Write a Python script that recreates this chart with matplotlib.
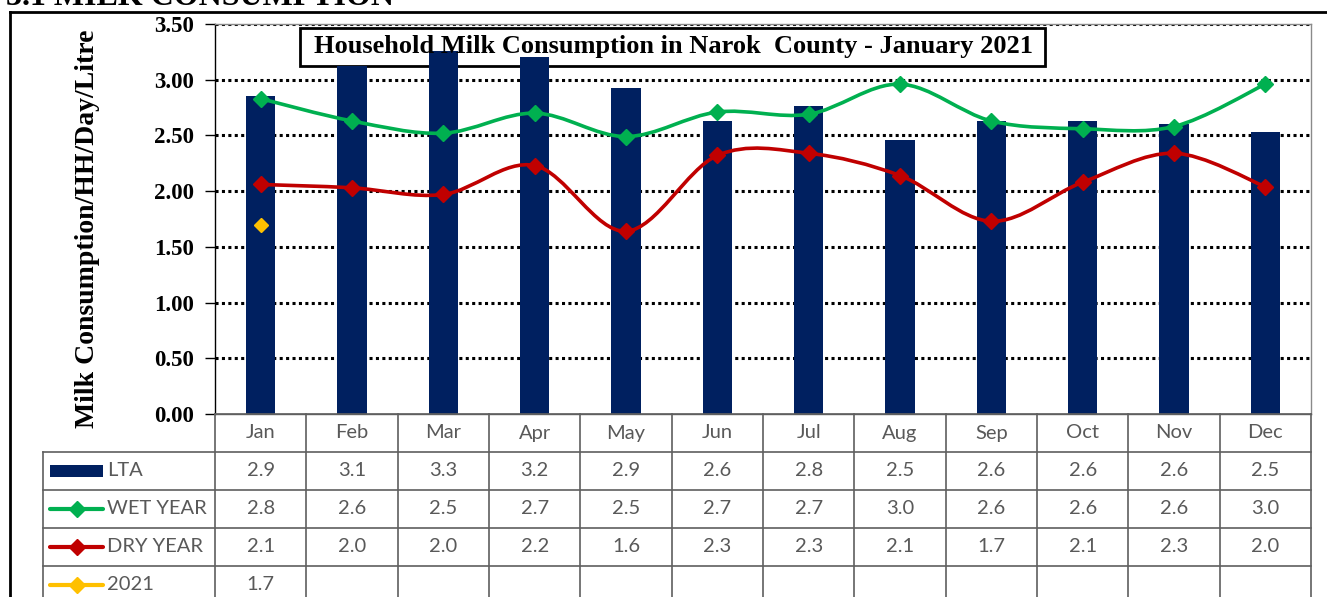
import matplotlib
matplotlib.use('Agg')
import matplotlib.pyplot as plt
from matplotlib.patches import Rectangle, PathPatch
from matplotlib.path import Path
from matplotlib.lines import Line2D

plt.rcParams.update({'font.family': 'Lato', 'figure.facecolor': 'white'})

# data
months = ['Jan', 'Feb', 'Mar', 'Apr', 'May', 'Jun', 'Jul', 'Aug', 'Sep', 'Oct', 'Nov', 'Dec']
lta = [2.85, 3.12, 3.26, 3.20, 2.93, 2.63, 2.76, 2.46, 2.63, 2.63, 2.60, 2.53]
wet_year = [2.83, 2.63, 2.52, 2.70, 2.49, 2.71, 2.69, 2.96, 2.63, 2.56, 2.58, 2.96]
dry_year = [2.06, 2.03, 1.97, 2.23, 1.64, 2.32, 2.34, 2.14, 1.73, 2.08, 2.34, 2.04]
y2021 = [1.70]
yticks = [0.0, 0.5, 1.0, 1.5, 2.0, 2.5, 3.0, 3.5]

NAVY, GREEN, RED, GOLD = '#002060', '#00B050', '#C00000', '#FFC000'
GRID = '#5f5f5f'
TXT = '#595959'
SERIF = 'Liberation Serif'

W, H = 1327, 597
fig = plt.figure(figsize=(W / 100, H / 100), dpi=100)


def fx(px):
    return px / W


def fy(py):
    return 1 - py / H


def smooth(xs, ys):
    # Excel-like smoothed line as cubic Bezier segments
    verts = [(xs[0], ys[0])]
    codes = [Path.MOVETO]
    n = len(xs)
    for i in range(n - 1):
        a = max(i - 1, 0)
        b = min(i + 2, n - 1)
        c1 = (xs[i] + (xs[i + 1] - xs[a]) / 6, ys[i] + (ys[i + 1] - ys[a]) / 6)
        c2 = (xs[i + 1] - (xs[b] - xs[i]) / 6, ys[i + 1] - (ys[b] - ys[i]) / 6)
        verts += [c1, c2, (xs[i + 1], ys[i + 1])]
        codes += [Path.CURVE4] * 3
    return Path(verts, codes)


# ---- main chart ----
L, R, T, B = 215, 1311, 24, 414
ax = fig.add_axes([fx(L), fy(B), fx(R - L), (B - T) / H])
x = list(range(len(months)))
ax.set_xlim(-0.5, 11.5)
ax.set_ylim(0, 3.5)

for v in yticks[1:]:
    ax.axhline(v, color='black', lw=2.2, ls=(0, (1, 1.1)), zorder=1)

# title box (transparent, bars run over it, text on top)
ax.add_patch(Rectangle((fx(300), fy(66)), fx(745), (66 - 28) / H,
                       transform=fig.transFigure, fc='none', ec='black', lw=2,
                       clip_on=False, zorder=1.5))
ax.text(fx(673), fy(47), 'Household Milk Consumption in Narok  County - January 2021',
        transform=fig.transFigure, ha='center', va='center', fontfamily=SERIF,
        fontweight='bold', fontsize=19, zorder=6)

ax.bar(x, lta, width=0.32, color=NAVY, zorder=2)

for vals, col in [(wet_year, GREEN), (dry_year, RED)]:
    ax.add_patch(PathPatch(smooth(x, vals), fc='none', ec=col, lw=2.6, zorder=3))
    ax.plot(x, vals, ls='none', marker='D', ms=8.5, color=col, zorder=4)
ax.plot(x[:len(y2021)], y2021, ls='none', marker='D', ms=7, color=GOLD, zorder=4)

ax.set_yticks(yticks)
ax.set_yticklabels([f'{v:.2f}' for v in yticks], fontfamily=SERIF,
                   fontweight='bold', fontsize=16.5)
ax.tick_params(axis='y', length=7, width=1, pad=8, color='black')
ax.set_xticks([])
ax.spines['left'].set_color('black')
ax.spines['bottom'].set_color(GRID)
ax.spines['right'].set_color('#8a8a8a')
ax.spines['top'].set_color('#8a8a8a')
for s in ax.spines.values():
    s.set_linewidth(1)

# y label
fig.text(fx(88), fy(229), 'Milk Consumption/HH/Day/Litre', rotation=90,
         ha='center', va='center', fontfamily=SERIF, fontweight='bold', fontsize=20)

# section heading (cut off at the top in the original)
fig.text(fx(6), fy(5), '3.1 MILK CONSUMPTION', ha='left', va='baseline',
         fontfamily=SERIF, fontweight='bold', fontsize=23)

# outer border
fig.add_artist(Line2D([fx(10), 1], [fy(12), fy(12)], color='black', lw=2))
fig.add_artist(Line2D([fx(10), fx(10)], [fy(12), 0], color='black', lw=2))

# ---- data table ----
TL = 43
unit = (R - L) / 12
tax = fig.add_axes([fx(TL), 0, fx(R - TL), (H - B) / H])
left_x = -0.5 - (L - TL) / unit
tax.set_xlim(left_x, 11.5)
nrows = (H - B) / 38
tax.set_ylim(nrows, 0)
tax.axis('off')

lk = dict(color=GRID, lw=1.2, clip_on=False)
# horizontal rules
tax.plot([-0.5, 11.5], [0, 0], **lk)
for r in [1, 2, 3, 4]:
    tax.plot([left_x, 11.5], [r, r], **lk)
# vertical rules
for c in range(13):
    tax.plot([c - 0.5, c - 0.5], [0, nrows], **lk)
tax.plot([left_x, left_x], [1, nrows], **lk)

fs_tab = 14.5
for i, m in enumerate(months):
    tax.text(i, 0.5, m, ha='center', va='center', color=TXT, fontsize=fs_tab)

series = [('LTA', lta, NAVY), ('WET YEAR', wet_year, GREEN),
          ('DRY YEAR', dry_year, RED), ('2021', y2021, GOLD)]
kx0 = left_x + 7 / unit
kx1 = left_x + 60 / unit
for r, (name, vals, col) in enumerate(series, start=1):
    yc = r + 0.5
    if name == 'LTA':
        tax.add_patch(Rectangle((kx0, yc - 0.17), kx1 - kx0, 0.34, fc=col, ec='none'))
    else:
        tax.plot([kx0, kx1], [yc, yc], color=col, lw=3, solid_capstyle='round')
        tax.plot([(kx0 + kx1) / 2], [yc], marker='D', ms=8, color=col)
    tax.text(kx1 + 4 / unit, yc, name, ha='left', va='center', color=TXT, fontsize=fs_tab)
    for i, v in enumerate(vals):
        tax.text(i, yc, f'{v:.1f}', ha='center', va='center', color=TXT, fontsize=fs_tab)

fig.savefig('out.png', dpi=100)
